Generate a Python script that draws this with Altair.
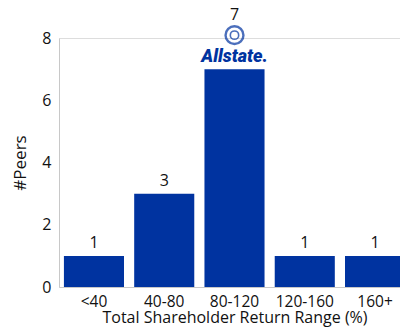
import altair as alt
import pandas as pd

categories = ["<40", "40-80", "80-120", "120-160", "160+"]
peers = [1, 3, 7, 1, 1]
highlight = "80-120"
logo_text = "Allstate."

df = pd.DataFrame({"range": categories, "peers": peers})
df["label"] = df["peers"].astype(str)
df_hi = df[df["range"] == highlight].copy()
df_hi["logo"] = logo_text
df_rest = df[df["range"] != highlight]

BLUE = "#0033A0"
FONT = "Open Sans"

xscale = alt.Scale(paddingInner=0.145, paddingOuter=0.07, range=[0, 351])
x = alt.X("range:N", sort=categories, scale=xscale,
          axis=alt.Axis(title="Total Shareholder Return Range (%)", labelAngle=0,
                        ticks=False, labelPadding=7, titlePadding=0,
                        labelFontSize=15.5, titleFontSize=16, labelColor="#111",
                        titleColor="#111", domainColor="#c8c8c8", labelFont=FONT,
                        titleFont=FONT, titleFontWeight="normal"))
y = alt.Y("peers:Q", scale=alt.Scale(domain=[0, 8]),
          axis=alt.Axis(title="#Peers", values=[0, 2, 4, 6, 8], ticks=False, grid=False,
                        labelPadding=8, titlePadding=12, labelFontSize=16, titleFontSize=17,
                        labelColor="#111", titleColor="#111", domainColor="#c8c8c8",
                        labelFont=FONT, titleFont=FONT, titleFontWeight="normal"))
xs = alt.X("range:N", sort=categories, scale=xscale)

bars = alt.Chart(df).mark_bar(color=BLUE).encode(x=x, y=y)
labels = alt.Chart(df_rest).mark_text(baseline="bottom", dy=-5, fontSize=16,
                                      font=FONT, color="#111").encode(
    x=xs, y="peers:Q", text="label:N")
label_hi = alt.Chart(df_hi).mark_text(baseline="bottom", dy=-46, fontSize=16,
                                      font=FONT, color="#111").encode(
    x=xs, y="peers:Q", text="label:N")
logo_word = alt.Chart(df_hi).mark_text(baseline="bottom", dy=-3, fontSize=18,
                                       font="Roboto", fontWeight=900, fontStyle="italic",
                                       color=BLUE).encode(
    x=xs, y="peers:Q", text="logo:N")
logo_mark = alt.Chart(df_hi).mark_point(shape="circle", size=320, filled=False,
                                        strokeWidth=2.4, color=BLUE, yOffset=-34).encode(
    x=xs, y="peers:Q")
logo_inner = alt.Chart(df_hi).mark_point(shape="circle", size=70, filled=False,
                                         strokeWidth=1.6, color=BLUE, yOffset=-34).encode(
    x=xs, y="peers:Q")

chart = alt.layer(bars, labels, label_hi, logo_word, logo_mark, logo_inner).properties(
    width=341, height=249,
    autosize=alt.AutoSizeParams(type="none"),
    padding={"left": 59, "top": 38, "right": 0, "bottom": 42},
).configure_view(stroke=None, clip=False).configure(background="white")

chart.save("out.html", embed_options={"renderer": "svg", "actions": False})
